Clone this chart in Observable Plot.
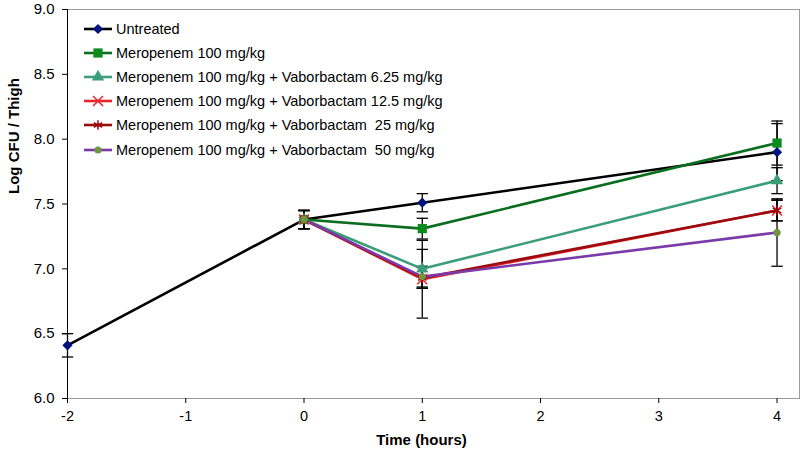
<!DOCTYPE html>
<html>
<head>
<meta charset="utf-8">
<script src="https://cdn.jsdelivr.net/npm/d3@7"></script>
<script src="https://cdn.jsdelivr.net/npm/@observablehq/plot@0.6"></script>
<style>
  html, body { margin: 0; padding: 0; background: #fff; }
  #wrap { position: relative; width: 800px; height: 451px; font-family: "Liberation Sans", Arial, sans-serif; }
  #legend { position: absolute; left: 84px; top: 17px; font-size: 14.5px; color: #000; }
  .row { display: flex; align-items: center; height: 24.1px; }
  .row svg { margin-right: 2px; }
</style>
</head>
<body>
<div id="wrap"><div id="legend"></div></div>
<script>
// ---- data ----
const times = [-2, 0, 1, 4];
const seriesNames = [
  "Untreated",
  "Meropenem 100 mg/kg",
  "Meropenem 100 mg/kg + Vaborbactam 6.25 mg/kg",
  "Meropenem 100 mg/kg + Vaborbactam 12.5 mg/kg",
  "Meropenem 100 mg/kg + Vaborbactam  25 mg/kg",
  "Meropenem 100 mg/kg + Vaborbactam  50 mg/kg"
];
const untreated = [6.41, 7.38, 7.51, 7.90];
const mero      = [null, 7.38, 7.31, 7.97];
const vab625    = [null, 7.38, 7.00, 7.68];
const vab125    = [null, 7.38, 6.92, 7.45];
const vab25     = [null, 7.38, 6.93, 7.45];
const vab50     = [null, 7.38, 6.94, 7.28];
const untreatedErr = [0.09, 0.07, 0.07, 0.22];
const meroErr      = [null, 0.07, 0.08, 0.17];
const vab625Err    = [null, 0.07, 0.15, 0.10];
const vab125Err    = [null, 0.07, 0.30, 0.08];
const vab25Err     = [null, 0.07, 0.08, 0.08];
const vab50Err     = [null, 0.07, 0.08, 0.26];
const xTicks = [-2, -1, 0, 1, 2, 3, 4];
const yTicks = [6.0, 6.5, 7.0, 7.5, 8.0, 8.5, 9.0];

// ---- styles ----
const lineColors   = ["#000000", "#0a6e1e", "#3a9e78", "#e8262b", "#9b0c10", "#7a3aa8"];
const markerColors = ["#00137f", "#0b8a1e", "#3a9e78", "#e8262b", "#9b0c10", "#6e9640"];
const symbols = ["diamond2", "square", "triangle", "times", "asterisk", "circle"];
const markerR = [4.6, 5.2, 4.6, 4.6, 4.6, 3.6];
const strokeSymbols = new Set(["times", "asterisk"]);

const values = [untreated, mero, vab625, vab125, vab25, vab50];
const errs = [untreatedErr, meroErr, vab625Err, vab125Err, vab25Err, vab50Err];

const rows = [];
values.forEach((vals, s) => vals.forEach((v, i) => {
  if (v != null) rows.push({series: s, t: times[i], v, e: errs[s][i]});
}));

// horizontal cap symbol for error bars
const capSymbol = { draw(ctx, size) { const w = Math.sqrt(size) * 0.8; ctx.moveTo(-w, 0); ctx.lineTo(w, 0); } };

const marks = [
  Plot.frame({stroke: "#9a9a9a"}),
  Plot.axisX({ticks: xTicks, tickFormat: d => d3.format("d")(d).replace("−", "-"), tickSize: 5, tickPadding: 7, fontSize: 14.5, label: null}),
  Plot.axisY({ticks: yTicks, tickFormat: d => d.toFixed(1), tickSize: 5, tickPadding: 8, fontSize: 15, label: null}),
  Plot.ruleX([-2], {stroke: "#000", strokeWidth: 1}),
  // error bars
  Plot.ruleX(rows, {x: "t", y1: d => d.v - d.e, y2: d => d.v + d.e, stroke: "#000", strokeWidth: 1.3}),
  Plot.dot(rows, {x: "t", y: d => d.v - d.e, symbol: capSymbol, r: 4, stroke: "#000", strokeWidth: 1.3}),
  Plot.dot(rows, {x: "t", y: d => d.v + d.e, symbol: capSymbol, r: 4, stroke: "#000", strokeWidth: 1.3})
];
values.forEach((vals, s) => {
  const d = rows.filter(r => r.series === s);
  marks.push(Plot.line(d, {x: "t", y: "v", stroke: lineColors[s], strokeWidth: 2.6}));
});
values.forEach((vals, s) => {
  const d = rows.filter(r => r.series === s);
  const isStroke = strokeSymbols.has(symbols[s]);
  marks.push(Plot.dot(d, {x: "t", y: "v", symbol: symbols[s], r: markerR[s],
    fill: isStroke ? "none" : markerColors[s], stroke: isStroke ? markerColors[s] : "none", strokeWidth: 1.5}));
});

const chart = Plot.plot({
  width: 800, height: 451,
  marginLeft: 67, marginRight: 1, marginTop: 9, marginBottom: 53,
  x: {domain: [-2, 4.19]},
  y: {domain: [6, 9]},
  style: {fontFamily: "'Liberation Sans', Arial, sans-serif", background: "#fff", color: "#000"},
  marks: [
    ...marks,
    Plot.text(["Time (hours)"], {frameAnchor: "bottom", dy: 46, fontSize: 15, fontWeight: "bold", fontFamily: "'Liberation Sans Narrow', 'Liberation Sans', sans-serif", dx: -12}),
    Plot.text(["Log CFU / Thigh"], {frameAnchor: "left", dx: -53, rotate: -90, fontSize: 15, fontWeight: "bold", fontFamily: "'Liberation Sans Narrow', 'Liberation Sans', sans-serif", dy: -10})
  ]
});
document.getElementById("wrap").prepend(chart);

// legend
const legend = d3.select("#legend");
const symTypes = {diamond2: d3.symbolDiamond2, square: d3.symbolSquare, triangle: d3.symbolTriangle,
  times: d3.symbolTimes, asterisk: d3.symbolAsterisk, circle: d3.symbolCircle};
seriesNames.forEach((name, s) => {
  const row = legend.append("div").attr("class", "row");
  const svg = row.append("svg").attr("width", 30).attr("height", 14);
  svg.append("line").attr("x1", 0).attr("x2", 28).attr("y1", 7).attr("y2", 7)
     .attr("stroke", lineColors[s]).attr("stroke-width", 2.6);
  const isStroke = strokeSymbols.has(symbols[s]);
  svg.append("path").attr("transform", "translate(14,7)")
     .attr("d", d3.symbol(symTypes[symbols[s]], Math.PI * markerR[s] * markerR[s])())
     .attr("fill", isStroke ? "none" : markerColors[s])
     .attr("stroke", isStroke ? markerColors[s] : "none").attr("stroke-width", 1.5);
  row.append("span").style("white-space", "pre").text(name);
});
</script>
</body>
</html>
